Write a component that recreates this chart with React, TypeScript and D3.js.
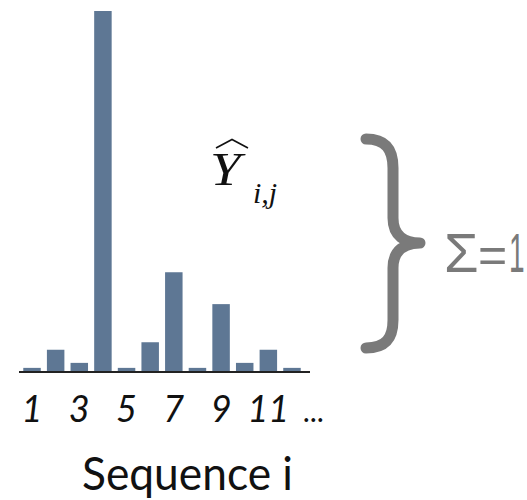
import React from "react";
import * as d3 from "d3";

const categories = [1, 2, 3, 4, 5, 6, 7, 8, 9, 10, 11, 12];
const values = [0.005, 0.034, 0.013, 0.576, 0.005, 0.046, 0.158, 0.005, 0.107, 0.013, 0.034, 0.005];
const tickCategories = [1, 3, 5, 7, 9, 11];
const tickLabels = ["1", "3", "5", "7", "9", "11"];
const moreLabel = "...";
const xTitle = "Sequence i";
const sumParts = ["Σ", "=", "1"];

export default function App() {
  const W = 527, H = 500;
  const baseY = 371;
  const x = d3.scaleBand<number>().domain(categories).range([20.2, 303.8]).paddingInner(0.26).paddingOuter(0.13);
  const y = d3.scaleLinear().domain([0, 0.576]).range([baseY, 11]);
  const step = x.step();
  const cx = (c: number) => (x(c) as number) + x.bandwidth() / 2;
  const brace = "M366,139 C386,139 393,150 393,168 L393,218 C393,236 405,243 420,243 C405,243 393,250 393,268 L393,320 C393,338 386,348 366,348";
  const sumX = [444, 478, 509];
  const sumScale = [1, 1, 0.5];
  return (
    <svg width={W} height={H} style={{ position: "absolute", left: 0, top: 0, background: "#fff" }}>
      <rect x={0} y={0} width={W} height={H} fill="#fff" />
      {categories.map((c, i) => (
        <rect key={c} x={x(c)} y={y(values[i])} width={x.bandwidth()} height={baseY - y(values[i])} fill="#5e7794" />
      ))}
      <line x1={19} x2={310} y1={372} y2={372} stroke="#222" strokeWidth={2} />
      {tickCategories.map((c, i) => (
        <text key={c} x={cx(c)} y={422} textAnchor="middle" fontFamily="Lato, 'Open Sans', sans-serif" fontStyle="italic" fontSize={36} fill="#111">
          {tickLabels[i]}
        </text>
      ))}
      <text x={cx(12) + step * 0.9} y={422} textAnchor="middle" fontFamily="Lato, 'Open Sans', sans-serif" fontSize={30} fill="#111">{moreLabel}</text>
      <text x={82} y={490} textLength={211} lengthAdjust="spacingAndGlyphs" fontFamily="Lato, 'Open Sans', sans-serif" fontSize={46} fill="#111">{xTitle}</text>
      {/* Y hat */}
      <path d="M216,148 L232,139.5 L248,148" fill="none" stroke="#111" strokeWidth={1.6} />
      <text transform="translate(210,185) scale(1.2,1)" x={0} y={0} fontFamily="'Liberation Serif', 'DejaVu Serif', serif" fontStyle="italic" fontSize={46} fill="#111">Y</text>
      <text x={253} y={203} fontFamily="'Liberation Serif', 'DejaVu Serif', serif" fontStyle="italic" fontSize={30} fill="#111">i,j</text>
      <path d={brace} fill="none" stroke="#7a7a7a" strokeWidth={11} strokeLinecap="round" strokeLinejoin="round" />
      {sumParts.map((s, i) => (
        <text key={i} transform={`translate(${sumX[i]},272) scale(${sumScale[i]},1)`} x={0} y={0} fontFamily="'Liberation Sans', Lato, sans-serif" fontSize={i === 1 ? 50 : 56} fill="#7a7a7a">{s}</text>
      ))}
    </svg>
  );
}
